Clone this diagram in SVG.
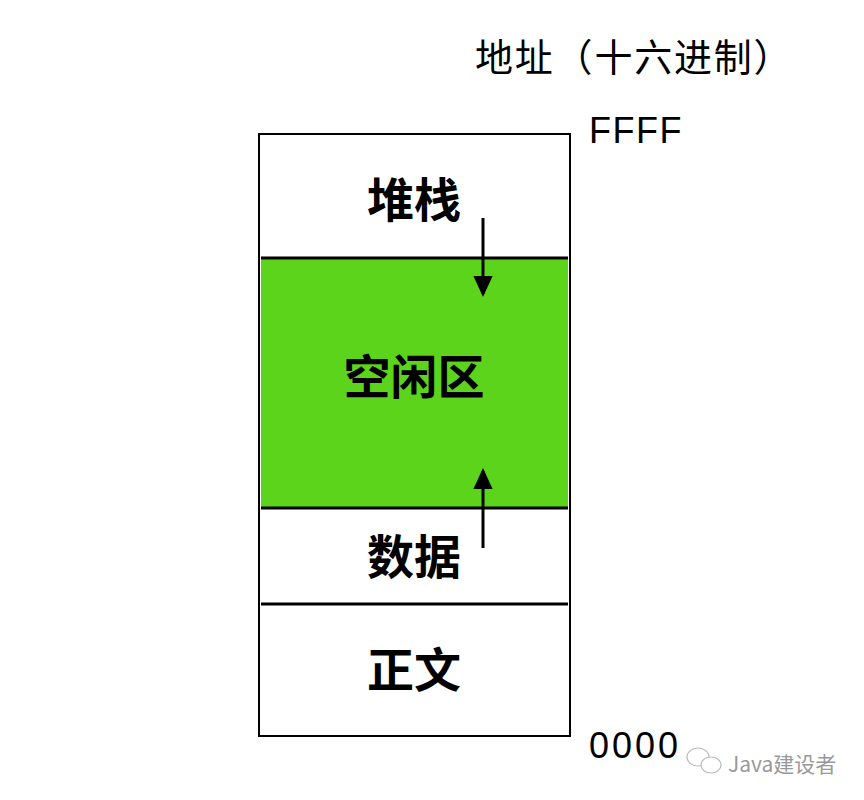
<svg xmlns="http://www.w3.org/2000/svg" width="864" height="800" viewBox="0 0 864 800">
<style>
.lbl{font-family:"Noto Sans CJK SC","Noto Sans",sans-serif;font-weight:bold;font-size:47px;fill:#000;text-anchor:middle;dominant-baseline:central}
.addr{font-family:"Liberation Sans","Noto Sans CJK SC",sans-serif;font-size:36px;fill:#000}
.div{stroke:#000;stroke-width:3}
.conn{stroke:#000;stroke-width:3;fill:none}
</style>
<defs>
<marker id="ah" markerWidth="7" markerHeight="6.4" refX="6" refY="3.2" orient="auto" markerUnits="strokeWidth">
<path d="M0,0 L7,3.2 L0,6.4 Z" fill="#000"/>
</marker>
</defs>
<rect width="864" height="800" fill="#fff"/>
<g id="memory">
<rect x="259" y="134" width="311" height="602" fill="#fff" stroke="#000" stroke-width="2"/>
</g>
<g id="free">
<rect x="261" y="259" width="307" height="249" fill="#5dd41c"/>
<text class="lbl" x="414" y="373">空闲区</text>
</g>
<g id="stack">
<text class="lbl" x="414" y="196">堆栈</text>
</g>
<g id="data">
<text class="lbl" x="414" y="553">数据</text>
</g>
<g id="text">
<text class="lbl" x="414" y="666">正文</text>
</g>
<g id="dividers">
<line class="div" x1="261" y1="258" x2="568" y2="258"/>
<line class="div" x1="261" y1="508" x2="568" y2="508"/>
<line class="div" x1="261" y1="604" x2="568" y2="604"/>
</g>
<g id="connectors">
<line class="conn" x1="483" y1="218" x2="483" y2="294" marker-end="url(#ah)"/>
<line class="conn" x1="483" y1="548" x2="483" y2="471" marker-end="url(#ah)"/>
</g>
<g id="labels">
<text x="475" y="71" font-family="Noto Sans CJK SC,sans-serif" font-size="38" letter-spacing="1.8" fill="#000">地址（十六进制）</text>
<text class="addr" x="589" y="143" letter-spacing="1.5">FFFF</text>
<text class="addr" x="589" y="758" letter-spacing="3">0000</text>
</g>
<g id="watermark" fill="none" stroke="#bbb" stroke-width="1.2">
<ellipse cx="698" cy="757" rx="11" ry="9"/>
<ellipse cx="711" cy="765" rx="10" ry="8" fill="#fff"/>
<text x="728" y="772" font-family="Noto Sans CJK SC,sans-serif" font-size="21" fill="#999" stroke="none">Java建设者</text>
</g>
</svg>
